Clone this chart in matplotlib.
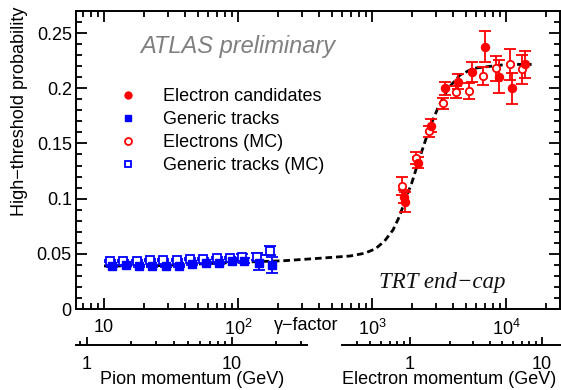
import matplotlib
matplotlib.use('Agg')
import matplotlib.pyplot as plt
from matplotlib.lines import Line2D
from matplotlib.ticker import FixedLocator, LogLocator, NullFormatter, FixedFormatter, MultipleLocator

plt.rcParams['font.family'] = ['Liberation Sans', 'DejaVu Sans']
plt.rcParams['mathtext.fontset'] = 'custom'
plt.rcParams['mathtext.rm'] = 'Liberation Sans'
plt.rcParams['mathtext.it'] = 'Liberation Sans:italic'

# ---------------- data ----------------
# Generic tracks (data) - filled blue squares
gen_gamma = [11.5, 14.5, 18.2, 22.9, 28.8, 36.2, 45.5, 57.3, 72.1, 89.7, 111, 143, 180]
gen_prob = [0.0392, 0.0399, 0.0392, 0.0392, 0.0392, 0.0392, 0.0405, 0.0414, 0.0420,
            0.0435, 0.0438, 0.0420, 0.0400]
gen_err = [0.001, 0.001, 0.001, 0.001, 0.001, 0.001, 0.001, 0.001, 0.001, 0.001,
           0.002, 0.0065, 0.007]

# Generic tracks (MC) - open blue squares
genmc_gamma = [11.1, 13.9, 17.5, 22.0, 27.7, 34.9, 43.8, 55.1, 69.3, 87.1, 108, 138, 173]
genmc_prob = [0.0435, 0.0435, 0.0435, 0.0441, 0.0441, 0.0441, 0.0450, 0.0450, 0.0459,
              0.0459, 0.0474, 0.0474, 0.0528]
genmc_err = [0.001, 0.001, 0.001, 0.001, 0.001, 0.001, 0.001, 0.001, 0.001, 0.001,
             0.002, 0.003, 0.004]

# Electron candidates (data) - filled red circles
ele_gamma = [1733, 1763, 2217, 2756, 3508, 4362, 5551, 6970, 8866, 11035, 13870]
ele_prob = [0.1017, 0.0966, 0.1325, 0.166, 0.200, 0.206, 0.2144, 0.2376, 0.2104, 0.200, 0.2216]
ele_err = [0.006, 0.009, 0.005, 0.006, 0.006, 0.007, 0.009, 0.0142, 0.015, 0.014, 0.012]

# Electrons (MC) - open red circles
elemc_gamma = [1667, 2118, 2663, 3371, 4238, 5300, 6700, 8376, 10716, 13250]
elemc_prob = [0.1114, 0.137, 0.161, 0.1863, 0.197, 0.1975, 0.2113, 0.218, 0.2216, 0.2171]
elemc_err = [0.008, 0.0055, 0.005, 0.005, 0.0055, 0.0075, 0.008, 0.011, 0.014, 0.013]

# Fit curve (dashed)
fit_gamma = [10, 22, 52, 110, 217, 409, 685, 880, 1060, 1240, 1435, 1619, 1764, 1978, 2281,
             2709, 3126, 3710, 4537, 5703, 7178, 10120, 15530]
fit_prob = [0.039, 0.039, 0.0408, 0.0425, 0.0437, 0.046, 0.0480, 0.0505, 0.0545, 0.0615,
            0.0716, 0.085, 0.0987, 0.114, 0.138, 0.165, 0.183, 0.200, 0.212, 0.218, 0.2195,
            0.2216, 0.2216]

y_ticks = [0, 0.05, 0.1, 0.15, 0.2, 0.25]
y_labels = ['0', '0.05', '0.1', '0.15', '0.2', '0.25']
x_ticks = [10, 100, 1000, 10000]
x_labels = ['10', r'$\mathregular{10^{2}}$', r'$\mathregular{10^{3}}$', r'$\mathregular{10^{4}}$']
pion_ticks = [1, 10]
pion_labels = ['1', '10']
elec_ticks = [1, 10]
elec_labels = ['1', '10']

legend_labels = ['Electron candidates', 'Generic tracks', 'Electrons (MC)', 'Generic tracks (MC)']

# ---------------- layout ----------------
W, H = 561, 390
fig = plt.figure(figsize=(W / 100, H / 100), dpi=100)


def fx(px):
    return px / W


def fy(py):
    return 1 - py / H


FS = 13
RED = '#ff0000'
BLUE = '#0000ff'

ax = fig.add_axes([fx(76), fy(309), fx(560) - fx(76), fy(11) - fy(309)])
ax.set_xscale('log')
ax.set_xlim(6.18, 25300)
ax.set_ylim(0, 0.27)

ax.plot(fit_gamma, fit_prob, color='black', lw=2.0, linestyle=(0, (2.4, 1.4)), zorder=2)

ekw = dict(elinewidth=1.3, capsize=4, capthick=1.3, linestyle='none', zorder=3)
ax.errorbar(genmc_gamma, genmc_prob, yerr=genmc_err, fmt='s', ms=5.5, mfc='white',
            mec=BLUE, mew=1.3, color=BLUE, ecolor=BLUE, **ekw)
ax.errorbar(gen_gamma, gen_prob, yerr=gen_err, fmt='s', ms=5.2, mfc=BLUE,
            mec=BLUE, color=BLUE, ecolor=BLUE, **ekw)
ax.errorbar(elemc_gamma, elemc_prob, yerr=elemc_err, fmt='o', ms=5.3, mfc='white',
            mec=RED, mew=1.3, color=RED, ecolor=RED, **ekw)
ax.errorbar(ele_gamma, ele_prob, yerr=ele_err, fmt='o', ms=5.8, mfc=RED,
            mec=RED, color=RED, ecolor=RED, **ekw)

# axes ticks
ax.xaxis.set_major_locator(FixedLocator(x_ticks))
ax.xaxis.set_major_formatter(FixedFormatter(x_labels))
ax.xaxis.set_minor_locator(LogLocator(base=10, subs=range(2, 10), numticks=20))
ax.xaxis.set_minor_formatter(NullFormatter())
ax.set_yticks(y_ticks)
ax.set_yticklabels(y_labels)
ax.yaxis.set_minor_locator(MultipleLocator(0.01))
ax.tick_params(which='both', direction='in', top=True, right=True, colors='black',
               labelsize=FS, width=1.3)
ax.tick_params(which='major', length=8)
ax.tick_params(which='minor', length=4)
ax.tick_params(axis='x', which='major', pad=7)
ax.tick_params(axis='y', which='major', pad=3)
for s in ax.spines.values():
    s.set_linewidth(1.4)

# legend
handles = [
    Line2D([], [], marker='o', ls='none', ms=5, mfc=RED, mec=RED),
    Line2D([], [], marker='s', ls='none', ms=5, mfc=BLUE, mec=BLUE),
    Line2D([], [], marker='o', ls='none', ms=5, mfc='white', mec=RED, mew=1.3),
    Line2D([], [], marker='s', ls='none', ms=5, mfc='white', mec=BLUE, mew=1.3),
]
leg = ax.legend(handles, legend_labels, loc='upper left',
                bbox_to_anchor=(fx(110), fy(88)), bbox_transform=fig.transFigure,
                frameon=False, fontsize=FS, handlelength=2.0, handletextpad=0.95,
                labelspacing=0.33, borderpad=0, borderaxespad=0, numpoints=1)

ax.text(fx(140), fy(53), 'ATLAS preliminary', transform=fig.transFigure,
        fontsize=17, style='italic', color='#7f7f7f', ha='left', va='baseline')
ax.text(fx(442.5), fy(288), 'TRT end\u2212cap', transform=fig.transFigure,
        fontsize=16.5, style='italic', family='Liberation Serif', color='#111111',
        ha='center', va='baseline')

fig.text(fx(20), fy(7), 'High\u2212threshold probability', rotation=90,
         ha='center', va='top', fontsize=FS)
fig.text(fx(306), fy(325), '\u03b3\u2212factor', ha='center', va='center', fontsize=FS)

# secondary momentum axes
def mom_axis(x0, x1, xlim, ticks, labels, title, title_x):
    a = fig.add_axes([fx(x0), fy(344.6), fx(x1) - fx(x0), 0.001])
    a.set_xscale('log')
    a.set_xlim(*xlim)
    a.set_facecolor('none')
    for k in ['top', 'left', 'right']:
        a.spines[k].set_visible(False)
    a.spines['bottom'].set_linewidth(1.4)
    a.set_yticks([])
    a.xaxis.set_major_locator(FixedLocator(ticks))
    a.xaxis.set_major_formatter(FixedFormatter(labels))
    a.xaxis.set_minor_locator(LogLocator(base=10, subs=range(2, 10), numticks=20))
    a.xaxis.set_minor_formatter(NullFormatter())
    a.tick_params(which='both', direction='in', labelsize=FS, width=1.3)
    a.tick_params(which='major', length=6, pad=8)
    a.tick_params(which='minor', length=3)
    fig.text(fx(title_x), fy(380), title, ha='center', va='center', fontsize=FS)
    return a


mom_axis(76, 307, (0.84, 32.9), pion_ticks, pion_labels, 'Pion momentum (GeV)', 191.7)
mom_axis(341.7, 561, (0.304, 13.9), elec_ticks, elec_labels, 'Electron momentum (GeV)', 449)

fig.savefig('out.png', dpi=100)
